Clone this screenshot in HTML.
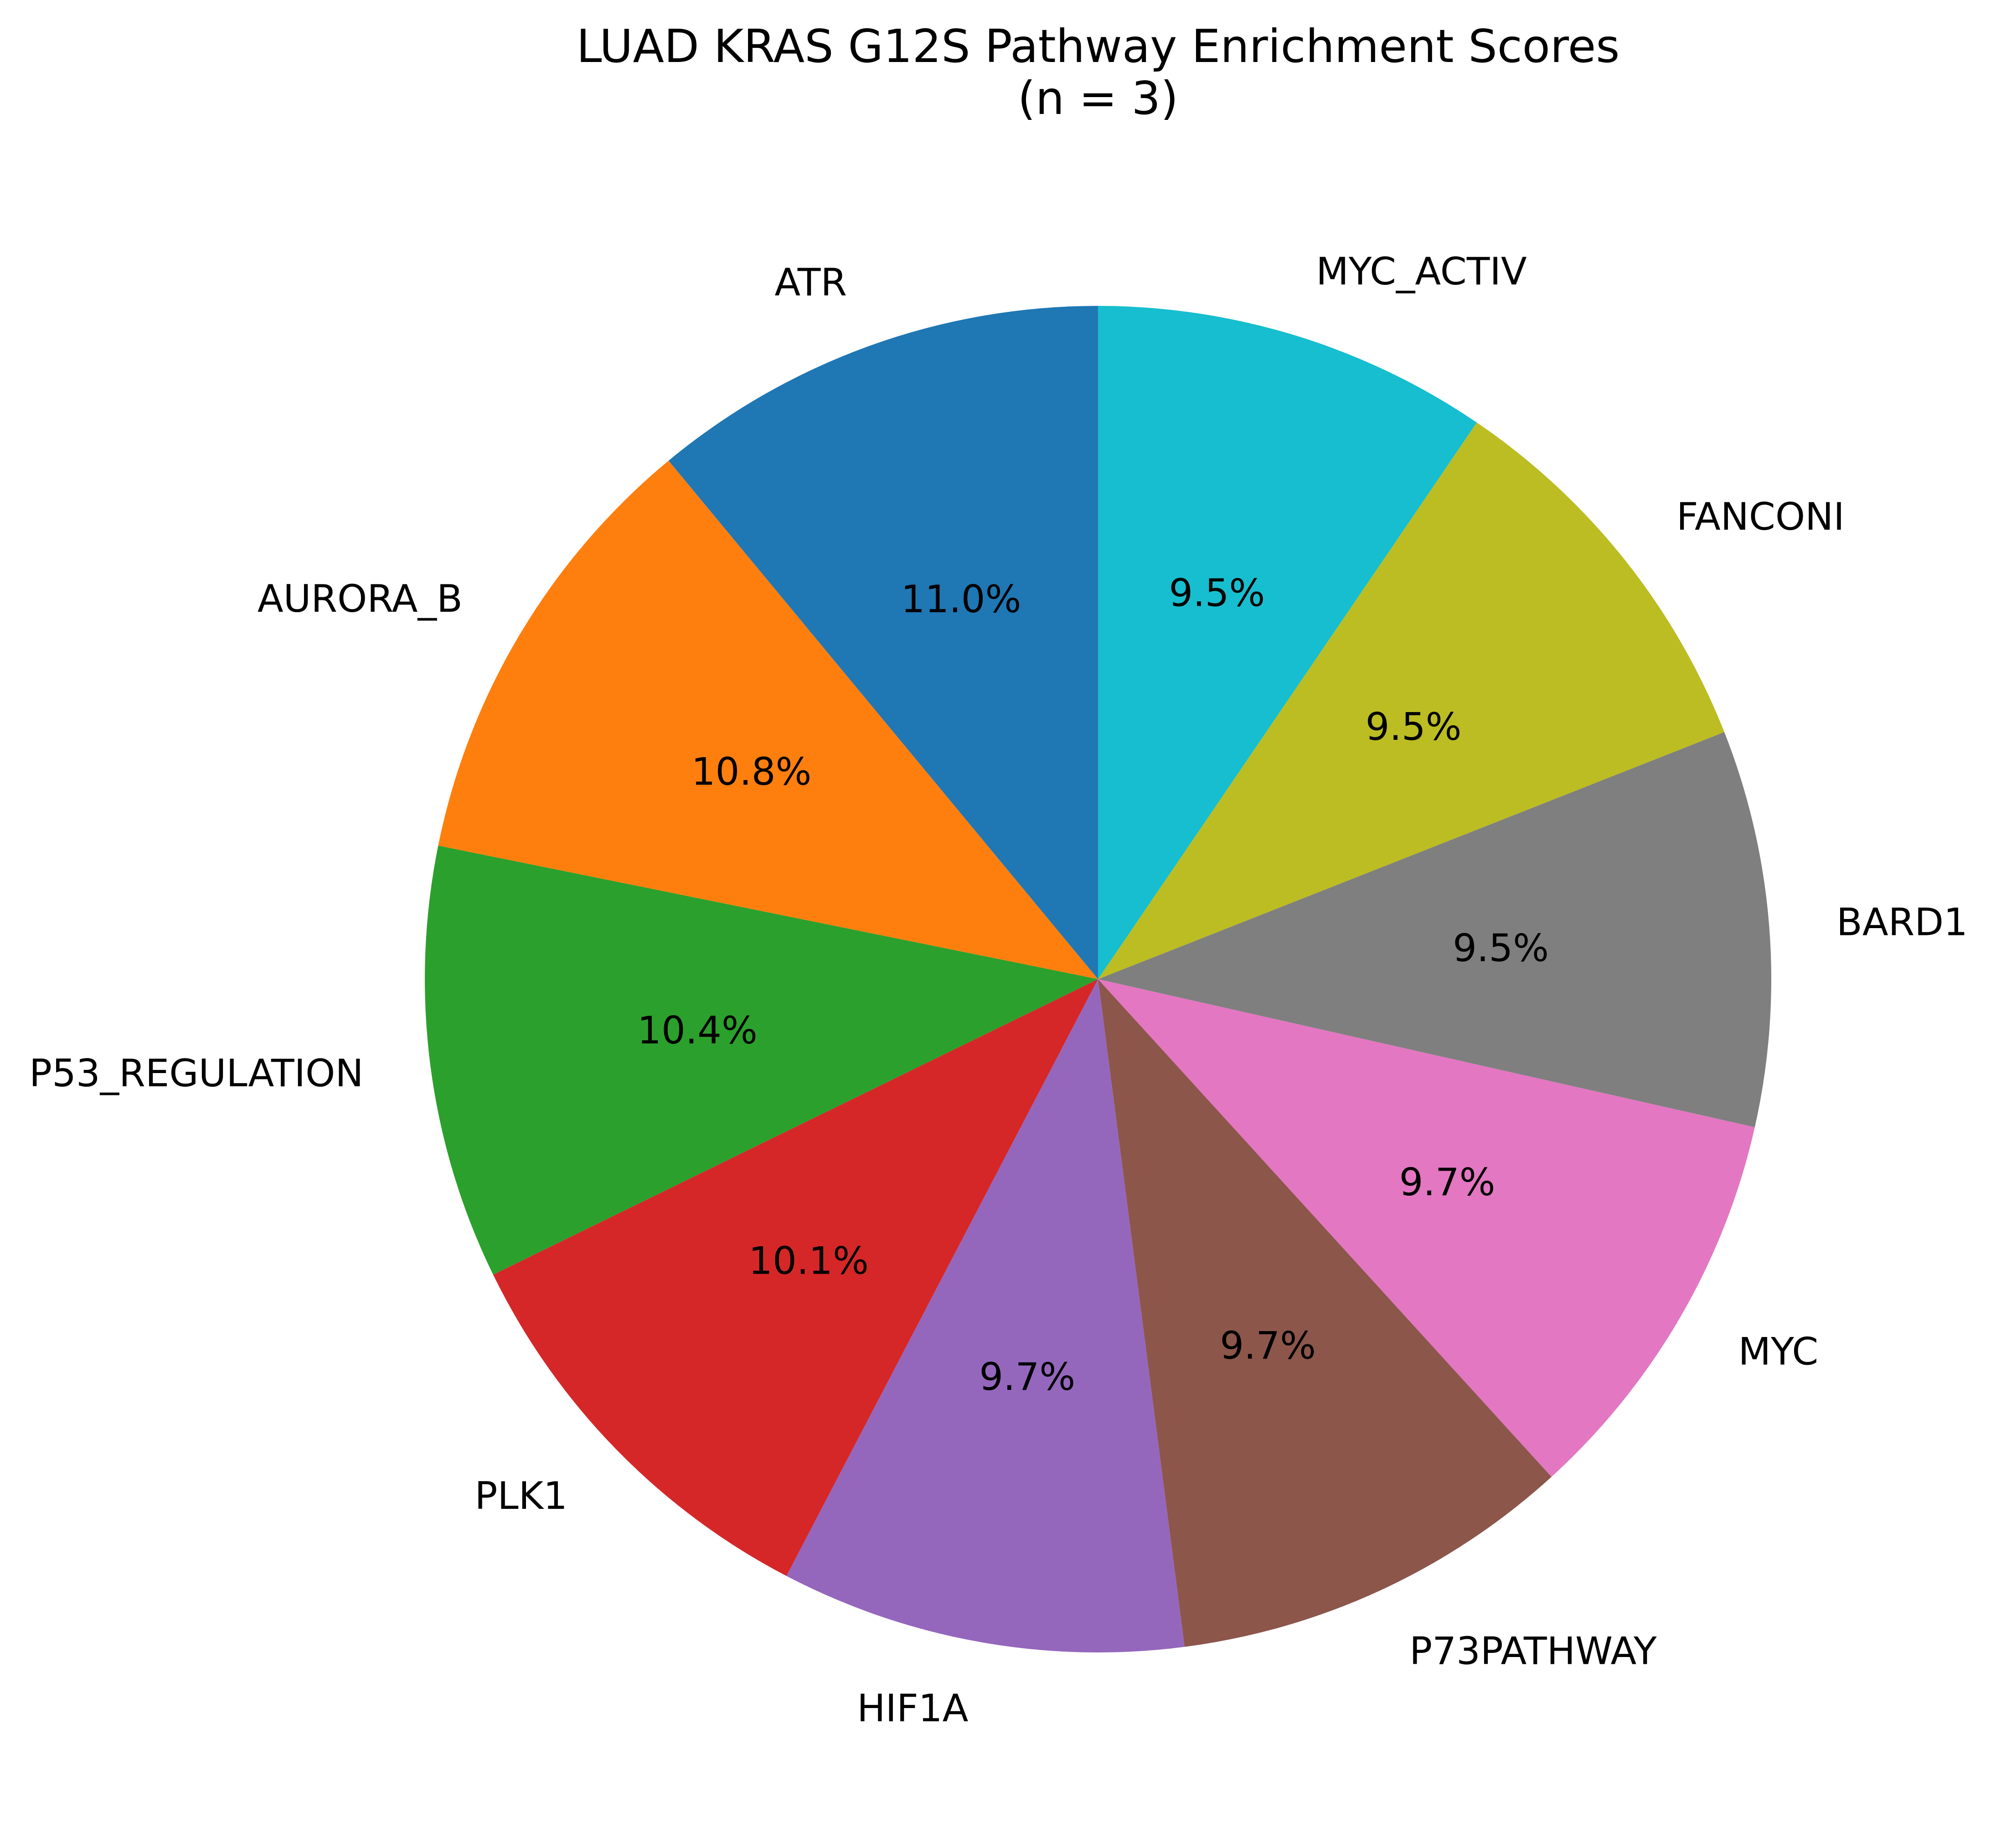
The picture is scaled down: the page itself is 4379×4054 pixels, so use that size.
<!DOCTYPE html>
<html><head><meta charset="utf-8"><style>
html,body{margin:0;padding:0;background:#fff;}
svg{display:block;font-family:"DejaVu Sans","Liberation Sans",sans-serif;}
</style></head><body>
<svg id="chart" width="4379" height="4054" viewBox="0 0 4379 4054" xmlns="http://www.w3.org/2000/svg">
<rect width="4379" height="4054" fill="#fff"/>
<text x="2409" y="136" font-size="100" text-anchor="middle" fill="#000">LUAD KRAS G12S Pathway Enrichment Scores</text>
<text x="2409" y="250" font-size="100" text-anchor="middle" fill="#000">(n = 3)</text>
<g id="slices"></g>
<g id="labels"></g>
</svg>
<script>
const categories = ["ATR","AURORA_B","P53_REGULATION","PLK1","HIF1A","P73PATHWAY","MYC","BARD1","FANCONI","MYC_ACTIV"];
const values = [11.0,10.8,10.4,10.1,9.7,9.7,9.7,9.5,9.5,9.5];
const colors = ["#1f77b4","#ff7f0e","#2ca02c","#d62728","#9467bd","#8c564b","#e377c2","#7f7f7f","#bcbd22","#17becf"];

const cx = 2409, cy = 2148, R = 1477;
const NS = "http://www.w3.org/2000/svg";
const gS = document.getElementById("slices");
const gL = document.getElementById("labels");
const total = values.reduce((a,b)=>a+b,0);
function pt(deg, r){ const a = deg*Math.PI/180; return [cx + r*Math.cos(a), cy - r*Math.sin(a)]; }
let start = 90;
values.forEach((v,i)=>{
  const sweep = 360*v/total;
  const end = start + sweep;
  const p1 = pt(start,R), p2 = pt(end,R);
  const large = sweep>180?1:0;
  const path = document.createElementNS(NS,"path");
  path.setAttribute("d",`M${cx},${cy} L${p1[0]},${p1[1]} A${R},${R} 0 ${large} 0 ${p2[0]},${p2[1]} Z`);
  path.setAttribute("fill",colors[i]);
  
  
  gS.appendChild(path);
  const mid = start + sweep/2;
  const lp = pt(mid, 1.1*R);
  const t = document.createElementNS(NS,"text");
  t.setAttribute("x",lp[0]); t.setAttribute("y",lp[1]);
  t.setAttribute("font-size","83");
  t.setAttribute("dominant-baseline","central");
  t.setAttribute("text-anchor", Math.cos(mid*Math.PI/180)>0 ? "start" : "end");
  t.textContent = categories[i];
  
  
  gL.appendChild(t);
  const pp = pt(mid, 0.6*R);
  const p = document.createElementNS(NS,"text");
  p.setAttribute("x",pp[0]); p.setAttribute("y",pp[1]);
  p.setAttribute("font-size","83");
  p.setAttribute("dominant-baseline","central");
  p.setAttribute("text-anchor","middle");
  p.textContent = (100*v/total).toFixed(1)+"%";
  
  
  gL.appendChild(p);
  start = end;
});
</script>
</body></html>
